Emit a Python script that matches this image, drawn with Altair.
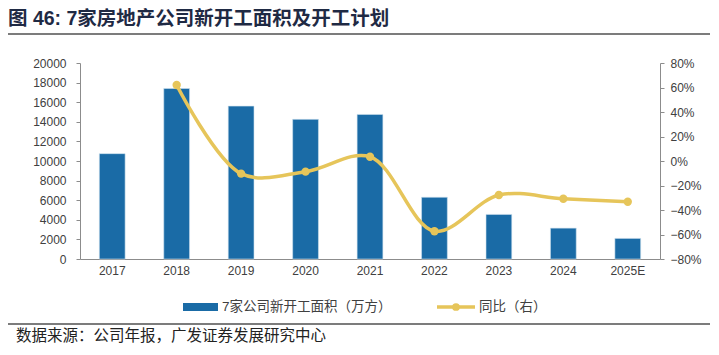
import altair as alt
import pandas as pd

years = ["2017", "2018", "2019", "2020", "2021", "2022", "2023", "2024", "2025E"]
area = [10750, 17400, 15600, 14250, 14750, 6300, 4550, 3150, 2100]
yoy = [None, 0.62, -0.103, -0.087, 0.035, -0.573, -0.278, -0.308, -0.333]
yoy_ticks = [-0.8, -0.6, -0.4, -0.2, 0, 0.2, 0.4, 0.6, 0.8]

df = pd.DataFrame({"year": years, "area": area, "yoy": yoy})

FONT = "Liberation Sans"
CJK = "Noto Sans CJK SC"
MIX = "Liberation Sans, Noto Sans CJK SC"
BAR = "#1A6BA6"
LINE = "#E6C55A"
AX = "#8C8C8C"
LAB = "#404040"

xenc = alt.X("year:N", sort=years,
             scale=alt.Scale(paddingInner=0.6, paddingOuter=0.3),
             axis=alt.Axis(title=None, labelAngle=0, ticks=False, domainColor=AX,
                           labelFont=FONT, labelFontSize=12, labelColor=LAB, labelPadding=6))

bars = alt.Chart(df).mark_bar(color=BAR, stroke="#CFE0EE", strokeWidth=0.6).encode(
    x=xenc,
    y=alt.Y("area:Q", scale=alt.Scale(domain=[0, 20000], nice=False),
            axis=alt.Axis(title=None, values=list(range(0, 20001, 2000)), grid=False,
                          format="d", labelOverlap=False,
                          domainColor=AX, tickColor=AX, tickSize=4, labelPadding=10,
                          labelFont=FONT, labelFontSize=12, labelColor=LAB)),
)

line_base = alt.Chart(df).transform_filter("datum.yoy != null")
yaxis_r = alt.Axis(title=None, orient="right", format=".0%", labelOverlap=False,
                   values=yoy_ticks, grid=False, labelBound=False,
                   domainColor=AX, tickColor=AX, tickSize=4, labelPadding=6,
                   labelFont=FONT, labelFontSize=12, labelColor=LAB)
yscale_r = alt.Scale(domain=[-0.8, 0.8], nice=False)
line = line_base.mark_line(color=LINE, strokeWidth=3.5, interpolate="catmull-rom").encode(
    x=alt.X("year:N", sort=years), y=alt.Y("yoy:Q", scale=yscale_r, axis=yaxis_r))
pts = line_base.mark_circle(color=LINE, size=70, opacity=1).encode(
    x=alt.X("year:N", sort=years), y=alt.Y("yoy:Q", scale=yscale_r, axis=yaxis_r))

one = pd.DataFrame({"a": [0]})
ann = alt.Chart(one)

title = ann.mark_text(text="图 46: 7家房地产公司新开工面积及开工计划", align="left", baseline="alphabetic",
                      font=MIX, fontSize=19.5, fontWeight="bold", color="#1F2A44").encode(
    x=alt.value(-72), y=alt.value(-38))
rule_top = ann.mark_rule(color="#505050", strokeWidth=1.5).encode(
    x=alt.value(-73), x2=alt.value(630), y=alt.value(-29))
rule_bot = ann.mark_rule(color="#505050", strokeWidth=1.5).encode(
    x=alt.value(-73), x2=alt.value(630), y=alt.value(261))
source = ann.mark_text(text="数据来源：公司年报，广发证券发展研究中心", align="left", baseline="middle",
                       font=CJK, fontSize=15.5, color="#222222").encode(
    x=alt.value(-64), y=alt.value(273))

leg_rect = ann.mark_rect(color=BAR).encode(
    x=alt.value(103), x2=alt.value(138), y=alt.value(240), y2=alt.value(248))
leg_text1 = ann.mark_text(text="7家公司新开工面积（万方）", align="left", baseline="middle",
                          font=MIX, fontSize=13.5, color=LAB).encode(
    x=alt.value(142), y=alt.value(244))
leg_line = ann.mark_rule(color=LINE, strokeWidth=3.5).encode(
    x=alt.value(357), x2=alt.value(395), y=alt.value(244))
leg_pt = ann.mark_circle(color=LINE, size=60, opacity=1).encode(
    x=alt.value(376), y=alt.value(244))
leg_text2 = ann.mark_text(text="同比（右）", align="left", baseline="middle",
                          font=CJK, fontSize=13.5, color=LAB).encode(
    x=alt.value(399), y=alt.value(244))

main = alt.layer(bars, alt.layer(line, pts)).resolve_scale(y="independent")

chart = alt.layer(main, title, rule_top, rule_bot, source, leg_rect, leg_text1,
                  leg_line, leg_pt, leg_text2).properties(
    width=580, height=196,
    autosize=alt.AutoSizeParams(type="none"),
    padding={"left": 72, "top": 55, "right": 51, "bottom": 88},
).configure_view(stroke=None)

chart.save("out.html", embed_options={"renderer": "svg", "actions": False})
